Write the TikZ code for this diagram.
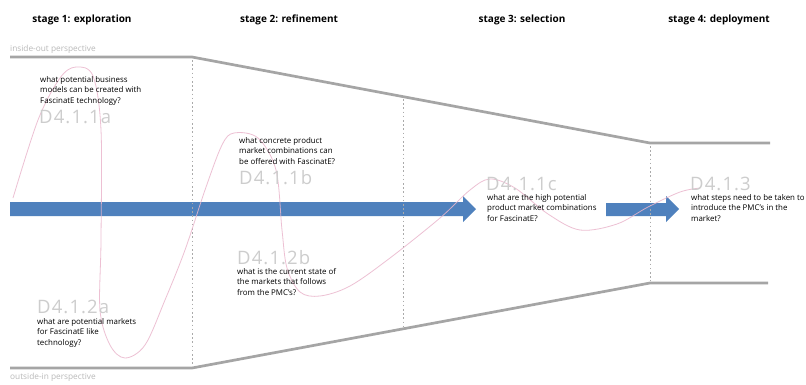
\documentclass[tikz,border=0pt]{standalone}
\usepackage{fontspec}
\setmainfont{Open Sans}
\definecolor{arrowblue}{RGB}{79,129,189}
\definecolor{curvepink}{RGB}{234,182,204}
\definecolor{funnelgray}{RGB}{165,165,165}
\definecolor{codegray}{RGB}{205,205,205}
\definecolor{dotgray}{RGB}{170,170,170}
\definecolor{perspgray}{RGB}{185,185,185}
\begin{document}
\begin{tikzpicture}[x=1pt,y=-1pt,
  stagetitle/.style={anchor=base,inner sep=0pt,font=\fontsize{10}{12}\selectfont\bfseries},
  question/.style={anchor=north west,inner sep=0pt,align=left,font=\fontsize{7.9}{10.7}\selectfont},
  code/.style={anchor=base west,inner sep=0pt,text=codegray,font=\fontsize{18.5}{20}\selectfont\addfontfeatures{LetterSpace=6}},
  persp/.style={anchor=west,inner sep=0pt,text=perspgray,font=\fontsize{8.3}{9}\selectfont},
  funnel/.style={draw=funnelgray,line width=2.7pt,line join=round},
  divider/.style={draw=dotgray,line width=0.8pt,dash pattern=on 1.6pt off 2.6pt},
  flow/.style={fill=arrowblue,draw=none},
  trail/.style={draw=curvepink,line width=0.8pt,opacity=0.85}
]
\useasboundingbox (0,0) rectangle (806,384);
\fill[white] (0,0) rectangle (806,384);

% stage titles
\node[stagetitle] (s1) at (82,22) {stage 1: exploration};
\node[stagetitle] (s2) at (289,22) {stage 2: refinement};
\node[stagetitle] (s3) at (522,22) {stage 3: selection};
\node[stagetitle] (s4) at (719,22) {stage 4: deployment};

% funnel corner points
\coordinate (tl) at (10,57);
\coordinate (t1) at (192,57);
\coordinate (t3) at (650,143);
\coordinate (tr) at (770,143);
\coordinate (bl) at (10,368);
\coordinate (b1) at (192,368);
\coordinate (b3) at (650,283);
\coordinate (br) at (768,283);

% perspective labels
\node[persp] (pin) at (10,49) {inside-out perspective};
\node[persp] (pout) at (10,377) {outside-in perspective};

% blue arrows
\fill[flow] (10,202) -- (463,202) -- (463,196) -- (476,209) -- (463,222) -- (463,216) -- (10,216) -- cycle;
\fill[flow] (606,203) -- (666,203) -- (666,196) -- (679,209) -- (666,222) -- (666,216) -- (606,216) -- cycle;

% funnel
\draw[funnel] (tl) -- (t1) -- (t3) -- (tr);
\draw[funnel] (bl) -- (b1) -- (b3) -- (br);

% dotted dividers
\draw[divider] (192,60) -- (192,366);
\draw[divider] (403,99) -- (403,328);
\draw[divider] (650,146) -- (650,281);

% pink trail
\draw[trail] plot[smooth,tension=0.55] coordinates {
 (13,198) (38,120) (60,78) (76,67) (93,76) (101,130) (101,240) (100,310)
 (110,345) (125,358) (145,345) (165,300) (185,250) (205,190) (222,145)
 (234,133) (258,138) (276,170) (282,230) (287,268) (300,292) (320,296)
 (350,286) (390,258) (440,218) (470,190) (490,179) (515,188) (548,214)
 (580,230) (617,224) (648,207) (680,192) (700,188)};

% questions and deliverable codes
\node[question] (q11a) at (40,76) {what potential business\\models can be created with\\FascinatE technology?};
\node[code] (c11a) at (39,123) {D4.1.1a};

\node[question] (q11b) at (239,137) {what concrete product\\market combinations can\\be offered with FascinatE?};
\node[code] (c11b) at (239,184) {D4.1.1b};

\node[code] (c12b) at (237,264) {D4.1.2b};
\node[question] (q12b) at (237,268) {what is the current state of\\the markets that follows\\from the PMC's?};

\node[code] (c12a) at (37,313) {D4.1.2a};
\node[question] (q12a) at (37,318) {what are potential markets\\for FascinatE like\\technology?};

\node[code] (c11c) at (486,190) {D4.1.1c};
\node[question] (q11c) at (487,194) {what are the high potential\\product market combinations\\for FascinatE?};

\node[code] (c13) at (690,190) {D4.1.3};
\node[question] (q13) at (691,194) {what steps need to be taken to\\introduce the PMC's in the\\market?};
\end{tikzpicture}
\end{document}
